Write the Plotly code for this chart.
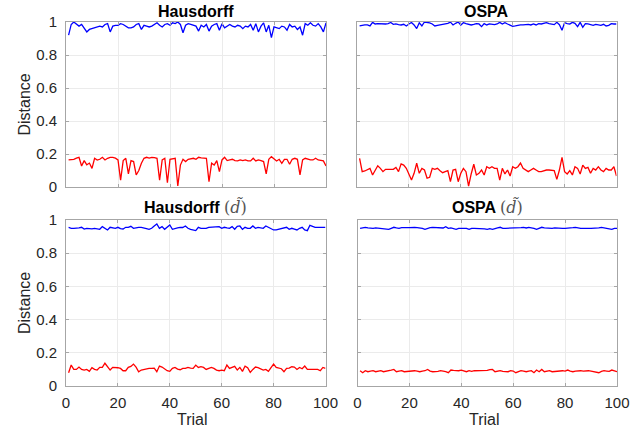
import plotly.graph_objects as go

trials = list(range(1, 101))

# Hausdorff (top-left)
hd_blue = [0.92, 0.985, 1.0, 0.99, 0.975, 0.985, 0.96, 0.94, 0.955, 0.96,
           0.965, 0.97, 0.975, 0.97, 0.985, 0.99, 0.94, 0.975, 0.98, 0.98,
           0.99, 0.985, 0.975, 0.965, 0.965, 0.97, 0.985, 0.99, 0.955, 0.98,
           0.975, 0.97, 0.975, 0.985, 0.995, 0.98, 0.97, 0.985, 0.99, 0.98,
           0.995, 0.99, 1.0, 0.985, 0.935, 0.98, 0.99, 0.985, 0.98, 0.975,
           0.945, 0.98, 0.97, 0.985, 0.945, 0.975, 0.985, 0.99, 0.95, 0.99,
           0.965, 0.975, 0.985, 0.975, 0.97, 0.98, 0.975, 0.96, 0.975, 0.97,
           0.985, 0.95, 0.99, 0.94, 0.975, 0.995, 0.94, 0.98, 0.905, 0.97,
           0.965, 0.96, 0.975, 0.97, 0.95, 0.985, 0.97, 0.975, 0.955, 0.97,
           0.92, 0.99, 0.98, 0.995, 0.98, 0.975, 0.99, 0.97, 0.94, 0.995]
hd_red = [0.164, 0.165, 0.168, 0.175, 0.18, 0.127, 0.16, 0.135, 0.145, 0.113,
          0.174, 0.163, 0.168, 0.18, 0.164, 0.174, 0.18, 0.18, 0.175, 0.164,
          0.042, 0.16, 0.174, 0.079, 0.16, 0.154, 0.073, 0.1, 0.144, 0.174,
          0.18, 0.175, 0.18, 0.178, 0.174, 0.042, 0.164, 0.174, 0.026, 0.168,
          0.172, 0.174, 0.006, 0.133, 0.168, 0.154, 0.168, 0.172, 0.174, 0.168,
          0.18, 0.176, 0.174, 0.174, 0.032, 0.144, 0.133, 0.16, 0.093, 0.164,
          0.18, 0.16, 0.164, 0.168, 0.16, 0.158, 0.164, 0.16, 0.164, 0.158,
          0.158, 0.174, 0.158, 0.164, 0.16, 0.154, 0.079, 0.168, 0.184, 0.168,
          0.158, 0.168, 0.144, 0.168, 0.168, 0.138, 0.168, 0.174, 0.168, 0.073,
          0.164, 0.174, 0.168, 0.164, 0.164, 0.174, 0.164, 0.16, 0.158, 0.127]

# OSPA (top-right)
ospa_blue = [0.976, 0.98, 0.982, 0.982, 0.976, 0.998, 0.988, 0.99, 0.988, 0.986,
             0.988, 0.99, 0.997, 0.986, 0.988, 0.984, 0.982, 0.986, 0.976, 0.988,
             0.997, 0.982, 0.96, 0.995, 0.976, 1.0, 0.998, 0.995, 0.988, 0.976,
             0.98, 0.982, 0.988, 0.99, 0.992, 0.999, 0.982, 0.992, 1.0, 0.982,
             0.996, 0.99, 0.988, 0.982, 0.985, 0.99, 0.988, 0.972, 0.99, 0.982,
             0.988, 0.985, 0.984, 0.988, 0.998, 0.988, 0.996, 0.988, 0.98, 0.974,
             0.976, 0.98, 0.982, 0.982, 0.984, 0.986, 0.982, 0.988, 0.982, 0.99,
             0.988, 0.99, 0.996, 0.99, 0.988, 0.984, 0.998, 0.984, 0.95, 0.996,
             0.99, 0.988, 0.998, 0.992, 0.972, 0.998, 0.968, 0.99, 0.988, 0.986,
             0.98, 0.986, 0.984, 0.98, 0.986, 0.976, 0.98, 0.99, 0.988, 0.988]
ospa_red = [0.174, 0.093, 0.097, 0.105, 0.113, 0.073, 0.103, 0.129, 0.113, 0.093,
            0.107, 0.107, 0.107, 0.107, 0.119, 0.093, 0.14, 0.133, 0.113, 0.079,
            0.042, 0.083, 0.144, 0.083, 0.113, 0.103, 0.053, 0.059, 0.113, 0.107,
            0.113, 0.099, 0.087, 0.093, 0.099, 0.032, 0.103, 0.107, 0.032, 0.083,
            0.113, 0.093, 0.006, 0.079, 0.138, 0.073, 0.083, 0.103, 0.073, 0.123,
            0.113, 0.123, 0.113, 0.113, 0.042, 0.113, 0.079, 0.103, 0.067, 0.123,
            0.113, 0.123, 0.145, 0.113, 0.103, 0.093, 0.103, 0.113, 0.103, 0.093,
            0.093, 0.098, 0.103, 0.103, 0.1, 0.099, 0.046, 0.103, 0.18, 0.093,
            0.079, 0.099, 0.073, 0.123, 0.113, 0.079, 0.133, 0.113, 0.119, 0.083,
            0.113, 0.103, 0.123, 0.103, 0.093, 0.113, 0.103, 0.103, 0.123, 0.067]

# Hausdorff d~ (bottom-left)
hdt_blue = [0.955, 0.95, 0.95, 0.95, 0.953, 0.956, 0.945, 0.95, 0.948, 0.946,
            0.95, 0.948, 0.944, 0.96, 0.95, 0.94, 0.956, 0.952, 0.95, 0.956,
            0.948, 0.946, 0.956, 0.956, 0.962, 0.95, 0.955, 0.956, 0.956, 0.95,
            0.948, 0.944, 0.95, 0.964, 0.976, 0.95, 0.96, 0.944, 0.956, 0.97,
            0.944, 0.95, 0.952, 0.956, 0.955, 0.964, 0.95, 0.944, 0.94, 0.936,
            0.956, 0.95, 0.95, 0.95, 0.956, 0.956, 0.956, 0.958, 0.96, 0.95,
            0.956, 0.952, 0.95, 0.96, 0.944, 0.962, 0.964, 0.944, 0.956, 0.95,
            0.95, 0.964, 0.95, 0.956, 0.952, 0.95, 0.964, 0.956, 0.948, 0.94,
            0.94, 0.944, 0.948, 0.952, 0.956, 0.944, 0.95, 0.945, 0.94, 0.95,
            0.956, 0.94, 0.936, 0.968, 0.962, 0.956, 0.956, 0.956, 0.956, 0.956]
hdt_red = [0.08, 0.126, 0.1, 0.1, 0.114, 0.1, 0.096, 0.1, 0.088, 0.11,
           0.1, 0.096, 0.112, 0.112, 0.137, 0.118, 0.096, 0.112, 0.112, 0.11,
           0.106, 0.092, 0.092, 0.112, 0.118, 0.132, 0.114, 0.086, 0.096, 0.1,
           0.106, 0.106, 0.106, 0.108, 0.086, 0.12, 0.114, 0.1, 0.092, 0.088,
           0.106, 0.112, 0.102, 0.098, 0.106, 0.106, 0.112, 0.108, 0.106, 0.126,
           0.112, 0.116, 0.112, 0.1, 0.106, 0.112, 0.106, 0.096, 0.092, 0.096,
           0.092, 0.126, 0.106, 0.112, 0.118, 0.096, 0.112, 0.088, 0.12, 0.11,
           0.082, 0.1, 0.114, 0.11, 0.104, 0.096, 0.1, 0.088, 0.11, 0.132,
           0.112, 0.11, 0.104, 0.086, 0.106, 0.108, 0.116, 0.114, 0.1, 0.112,
           0.104, 0.12, 0.1, 0.1, 0.1, 0.1, 0.1, 0.092, 0.112, 0.106]

# OSPA d~ (bottom-right)
ospat_blue = [0.95, 0.954, 0.956, 0.952, 0.95, 0.95, 0.952, 0.95, 0.95, 0.948,
              0.948, 0.944, 0.95, 0.956, 0.952, 0.95, 0.954, 0.956, 0.954, 0.954,
              0.956, 0.956, 0.954, 0.954, 0.95, 0.944, 0.95, 0.954, 0.956, 0.954,
              0.954, 0.95, 0.952, 0.96, 0.95, 0.952, 0.948, 0.944, 0.95, 0.95,
              0.952, 0.95, 0.944, 0.95, 0.95, 0.95, 0.95, 0.948, 0.946, 0.944,
              0.948, 0.944, 0.95, 0.952, 0.956, 0.95, 0.95, 0.95, 0.95, 0.95,
              0.95, 0.954, 0.954, 0.956, 0.952, 0.956, 0.955, 0.95, 0.944, 0.95,
              0.956, 0.952, 0.95, 0.95, 0.95, 0.952, 0.95, 0.95, 0.95, 0.95,
              0.95, 0.952, 0.954, 0.956, 0.952, 0.95, 0.95, 0.952, 0.95, 0.95,
              0.95, 0.95, 0.952, 0.956, 0.952, 0.95, 0.948, 0.944, 0.95, 0.95]
ospat_red = [0.092, 0.08, 0.092, 0.086, 0.09, 0.092, 0.086, 0.09, 0.092, 0.086,
             0.088, 0.092, 0.096, 0.1, 0.086, 0.09, 0.092, 0.086, 0.088, 0.086,
             0.088, 0.092, 0.09, 0.086, 0.09, 0.092, 0.1, 0.09, 0.086, 0.086,
             0.088, 0.092, 0.09, 0.086, 0.08, 0.096, 0.094, 0.092, 0.092, 0.096,
             0.09, 0.086, 0.092, 0.088, 0.092, 0.092, 0.092, 0.092, 0.096, 0.094,
             0.098, 0.1, 0.086, 0.09, 0.092, 0.088, 0.086, 0.086, 0.092, 0.09,
             0.08, 0.088, 0.092, 0.09, 0.086, 0.09, 0.092, 0.08, 0.096, 0.086,
             0.1, 0.086, 0.09, 0.092, 0.086, 0.088, 0.09, 0.092, 0.092, 0.09,
             0.096, 0.09, 0.086, 0.09, 0.092, 0.092, 0.09, 0.092, 0.092, 0.09,
             0.088, 0.086, 0.08, 0.088, 0.092, 0.09, 0.088, 0.096, 0.092, 0.086]

titles = ["Hausdorff", "OSPA",
          "Hausdorff <span style='font-family:DejaVu Serif;font-weight:normal;color:#555'>(<i>d\u0303</i>)</span>",
          "OSPA <span style='font-family:DejaVu Serif;font-weight:normal;color:#555'>(<i>d\u0303</i>)</span>"]
y_ticks = [0, 0.2, 0.4, 0.6, 0.8, 1]
y_ticktext = ["0", "0.2", "0.4", "0.6", "0.8", "1"]
x_ticks = [0, 20, 40, 60, 80, 100]

W, H = 644, 435
FONT = "Liberation Sans, Arial, sans-serif"

def fx(p):
    return p / W

def fy(p):
    return 1 - p / H

# panel pixel boxes: (left, right, top, bottom)
boxes = [(66, 326, 22, 187), (357, 616.5, 22, 187),
         (66, 325.5, 220, 386), (357.5, 617, 220, 386)]
series = [(hd_blue, hd_red), (ospa_blue, ospa_red),
          (hdt_blue, hdt_red), (ospat_blue, ospat_red)]

fig = go.Figure()
layout = dict(width=W, height=H, autosize=False,
              margin=dict(l=0, r=0, t=0, b=0, pad=0, autoexpand=False),
              template="none",
              paper_bgcolor="white", plot_bgcolor="white", showlegend=False,
              font=dict(family=FONT, color="#262626"))
annotations = []

for i, ((l, r, t, b), (blue, red)) in enumerate(zip(boxes, series)):
    n = "" if i == 0 else str(i + 1)
    xa, ya = "x" + n, "y" + n
    fig.add_trace(go.Scatter(x=trials, y=blue, mode="lines",
                             line=dict(color="#0000ff", width=1.3),
                             xaxis=xa, yaxis=ya))
    fig.add_trace(go.Scatter(x=trials, y=red, mode="lines",
                             line=dict(color="#ff0000", width=1.3),
                             xaxis=xa, yaxis=ya))
    common = dict(showline=True, linecolor="#a6a6a6", linewidth=1, mirror="all",
                  ticks="inside", ticklen=3, tickcolor="#a6a6a6",
                  showgrid=True, gridcolor="#ebebeb", gridwidth=1, zeroline=False,
                  automargin=False,
                  tickfont=dict(family=FONT, size=15, color="#262626"))
    layout["xaxis" + n] = dict(common, domain=[fx(l), fx(r)], range=[0, 100],
                               tickvals=x_ticks, anchor=ya,
                               showticklabels=(i >= 2), ticklabelstandoff=3)
    layout["yaxis" + n] = dict(common, domain=[fy(b), fy(t)], range=[0, 1],
                               tickvals=y_ticks, ticktext=y_ticktext, anchor=xa,
                               showticklabels=(i % 2 == 0), ticklabelstandoff=5)
    cx = (l + r) / 2
    ty = 11 if i < 2 else 207
    annotations.append(dict(text="<b>" + titles[i] + "</b>", x=fx(cx), y=fy(ty),
                            xref="paper", yref="paper", xanchor="center",
                            yanchor="middle", showarrow=False,
                            font=dict(family=FONT, size=16, color="#000000")))
    if i % 2 == 0:
        annotations.append(dict(text="Distance", x=fx(24), y=fy((t + b) / 2),
                                xref="paper", yref="paper", textangle=-90,
                                xanchor="center", yanchor="middle", showarrow=False,
                                font=dict(family=FONT, size=16, color="#262626")))
    if i >= 2:
        annotations.append(dict(text="Trial", x=fx(cx - 3), y=fy(419),
                                xref="paper", yref="paper", xanchor="center",
                                yanchor="middle", showarrow=False,
                                font=dict(family=FONT, size=16, color="#262626")))

layout["annotations"] = annotations
fig.update_layout(**layout)
fig.write_html("out.html")
